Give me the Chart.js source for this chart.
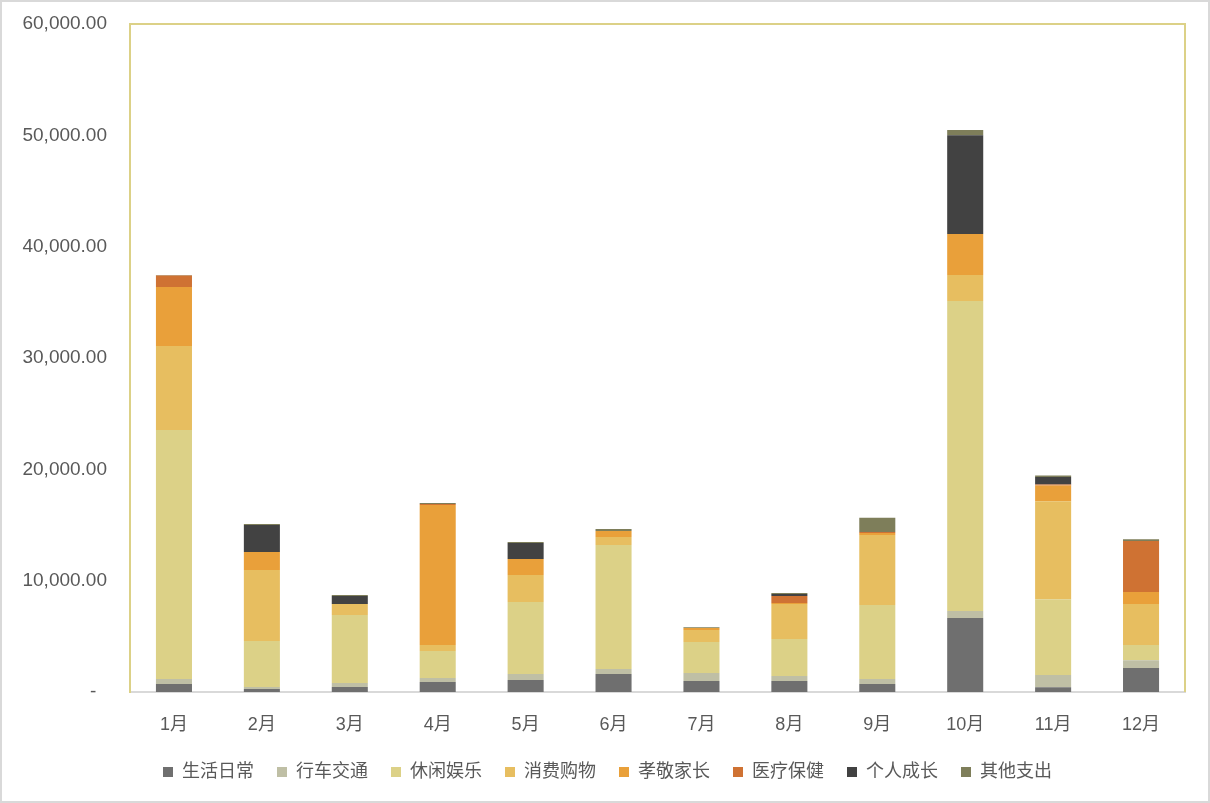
<!DOCTYPE html>
<html>
<head>
<meta charset="utf-8">
<script src="https://cdn.jsdelivr.net/npm/chart.js@4/dist/chart.umd.min.js"></script>
<style>
    body { margin: 0; background: #fff; }
    #wrap { position: relative; width: 1210px; height: 803px; }
    #frame { position: absolute; left: 0; top: 0; width: 1210px; height: 803px; box-sizing: border-box; border: 2px solid #d9d9d9; pointer-events: none; }
</style>
</head>
<body>
<div id="wrap">
    <canvas id="grafica"></canvas>
    <div id="frame"></div>
</div>
<script>
const meses = ['1月', '2月', '3月', '4月', '5月', '6月', '7月', '8月', '9月', '10月', '11月', '12月'];
const yTicks = [0, 10000, 20000, 30000, 40000, 50000, 60000];

// Valores por categoría
const vidaDiaria = [720, 270, 450, 900, 1080, 1620, 990, 990, 720, 6650, 430, 2160];
const transporte = [450, 180, 360, 360, 540, 450, 720, 450, 450, 630, 1100, 700];
const ocio = [22360, 4130, 6100, 2420, 6470, 11140, 2780, 3320, 6650, 27840, 6810, 1360];
const compras = [7540, 6380, 990, 540, 2420, 720, 1080, 3140, 6290, 2330, 8800, 3690];
const padres = [5300, 1620, 0, 12570, 1440, 540, 180, 90, 180, 3690, 1400, 1065];
const salud = [1050, 0, 0, 100, 0, 0, 0, 630, 90, 0, 100, 4590];
const crecimiento = [0, 2420, 720, 0, 1440, 0, 0, 180, 0, 8870, 665, 0];
const otros = [30, 90, 90, 90, 90, 180, 60, 90, 1260, 465, 130, 165];

const series = [
    { label: '生活日常', data: vidaDiaria, color: '#6f6f6f' },
    { label: '行车交通', data: transporte, color: '#bfbfa5' },
    { label: '休闲娱乐', data: ocio, color: '#dcd187' },
    { label: '消费购物', data: compras, color: '#e7be60' },
    { label: '孝敬家长', data: padres, color: '#e9a03a' },
    { label: '医疗保健', data: salud, color: '#cf7233' },
    { label: '个人成长', data: crecimiento, color: '#424242' },
    { label: '其他支出', data: otros, color: '#7e7e5a' }
];

const FUENTE = "'Liberation Sans', 'Noto Sans CJK SC', sans-serif";
const BORDE = '#dcd187';

// Borde superior y derecho del área de trazado + alto fijo de la leyenda
const bordePlot = {
    id: 'bordePlot',
    afterInit(chart) {
        const legend = chart.legend;
        if (legend) {
            const fit = legend.fit;
            legend.fit = function () {
                fit.call(this);
                this.height = 63;
            };
        }
    },
    afterLayout(chart) {
        // centrar la leyenda en todo el ancho del lienzo
        if (chart.legend) {
            chart.legend.left += 15;
            chart.legend.right += 15;
        }
    },
    afterDraw(chart) {
        const { ctx, chartArea: a } = chart;
        ctx.save();
        ctx.strokeStyle = BORDE;
        ctx.lineWidth = 2;
        ctx.beginPath();
        ctx.moveTo(a.left, a.top);
        ctx.lineTo(a.right, a.top);
        ctx.lineTo(a.right, a.bottom);
        ctx.stroke();
        ctx.restore();
    }
};

const ctx = document.getElementById('grafica').getContext('2d');
new Chart(ctx, {
    type: 'bar',
    data: {
        labels: meses,
        datasets: series.map(s => ({
            label: s.label,
            data: s.data,
            backgroundColor: s.color,
            borderWidth: 0,
            barPercentage: 0.41,
            categoryPercentage: 1.0
        }))
    },
    options: {
        responsive: true,
        maintainAspectRatio: false,
        animation: false,
        layout: { padding: { left: 0, top: 24, right: 25, bottom: 0 } },
        plugins: {
            legend: {
                position: 'bottom',
                labels: {
                    boxWidth: 10,
                    boxHeight: 10,
                    padding: 23,
                    color: '#595959',
                    font: { family: FUENTE, size: 18 }
                }
            },
            tooltip: { enabled: false }
        },
        scales: {
            x: {
                stacked: true,
                grid: { display: false, drawTicks: false },
                border: { color: '#d9d9d9', width: 2 },
                ticks: { color: '#595959', padding: 22, font: { family: FUENTE, size: 18 } },
                afterFit: (s) => { s.height = 48; s.paddingLeft = 0; s.paddingRight = 0; }
            },
            y: {
                stacked: true,
                min: 0,
                max: 60000,
                afterBuildTicks: (s) => { s.ticks = yTicks.map(v => ({ value: v })); },
                grid: { display: false, drawTicks: false },
                border: { color: BORDE, width: 2 },
                ticks: {
                    color: '#595959',
                    padding: 23,
                    font: { family: FUENTE, size: 19 },
                    callback: (v) => v === 0 ? '-  ' : v.toLocaleString('en-US', { minimumFractionDigits: 2, maximumFractionDigits: 2 })
                },
                afterFit: (s) => { s.width = 130; s.paddingTop = 0; s.paddingBottom = 0; }
            }
        }
    },
    plugins: [bordePlot]
});
</script>
</body>
</html>
